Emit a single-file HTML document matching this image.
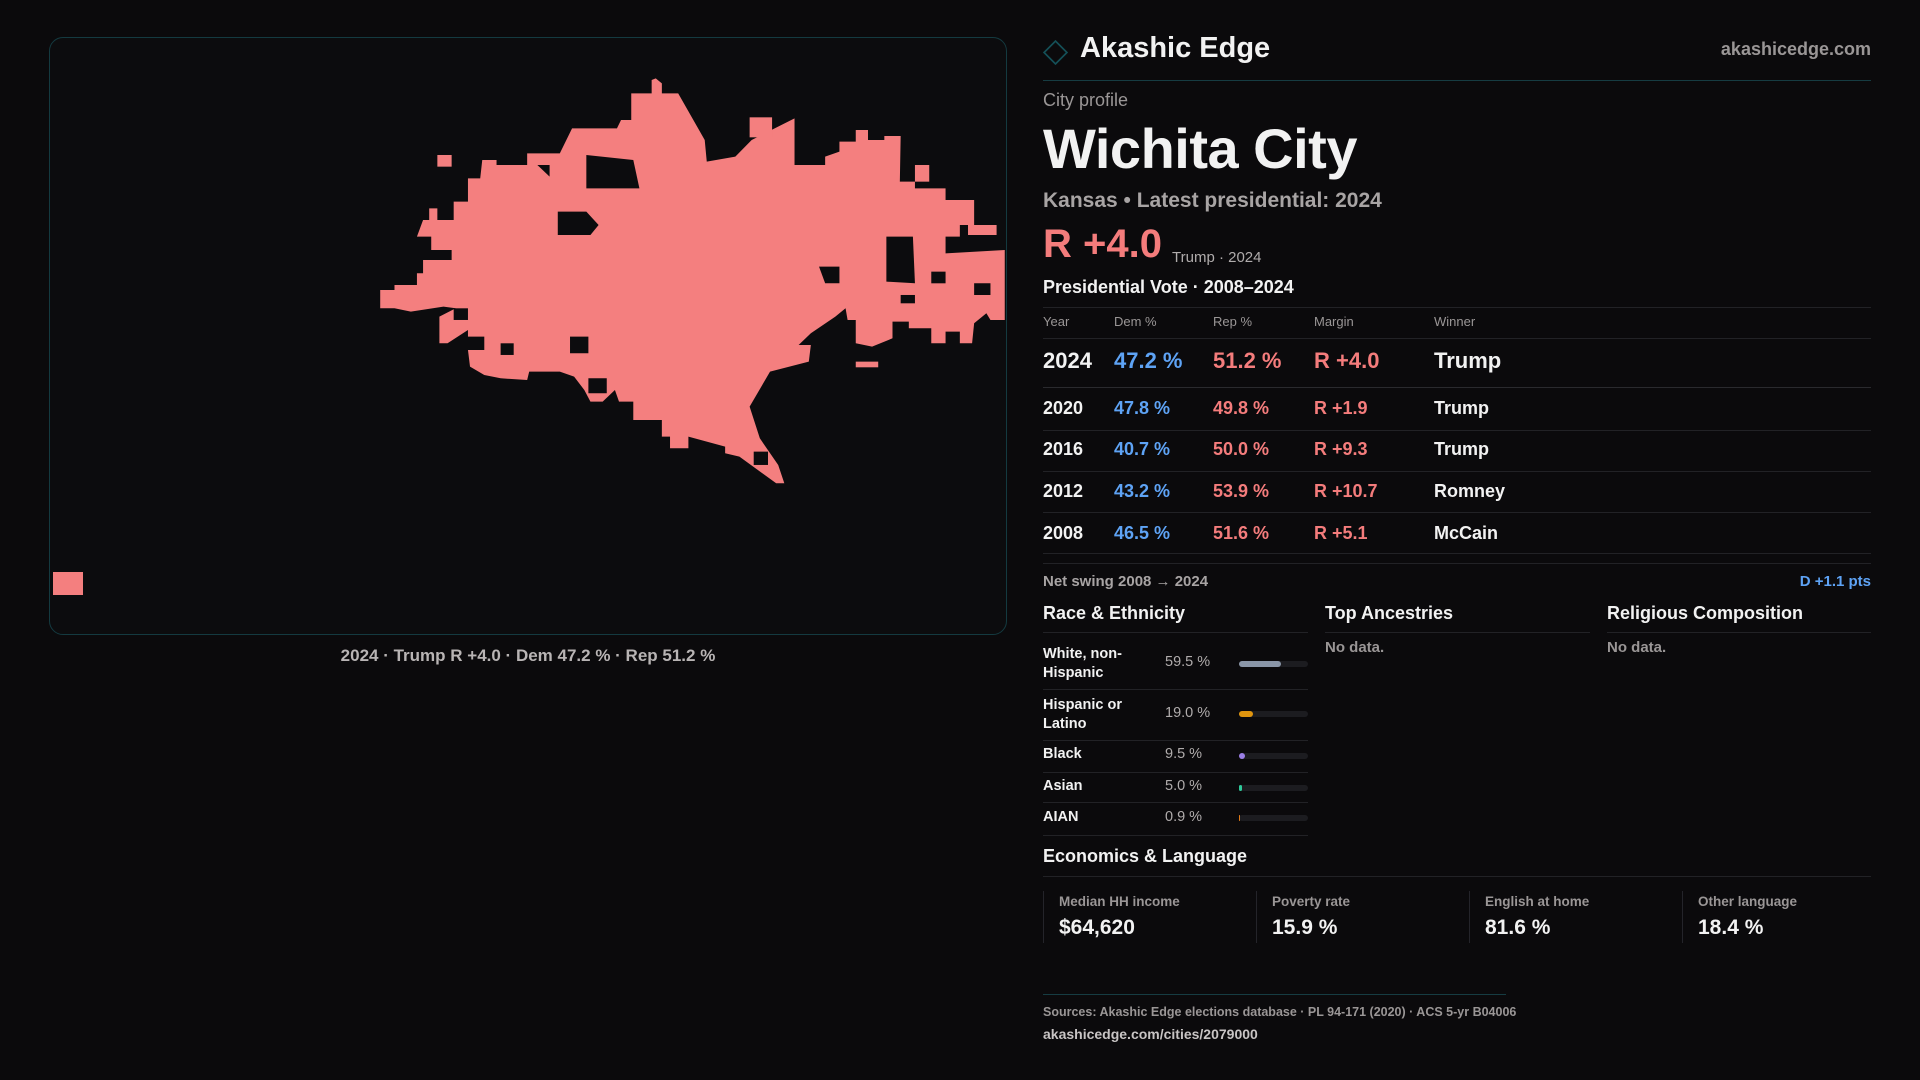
<!DOCTYPE html>
<html><head><meta charset="utf-8"><style>
*{margin:0;padding:0;box-sizing:border-box}
body{width:1920px;height:1080px;background:#0b0a0c;font-family:"Liberation Sans",sans-serif;color:#f2f2f2;position:relative;overflow:hidden}
.a{position:absolute;white-space:nowrap}
.g{color:#9a9696}
.hl{position:absolute;height:1px;background:#222226}
.r{color:#f47c7c}.b{color:#5ea3f5}
.bar{position:absolute;left:1239px;width:69px;height:6px;border-radius:3px;background:#1c1c20}
.bar i{position:absolute;left:0;top:0;height:6px;border-radius:3px}
.card{position:absolute;top:891px;height:52px;border-left:1px solid #24242a}
</style></head><body>
<div class="a" style="left:49px;top:37px;width:958px;height:598px;border:1px solid #143a40;border-radius:14px;background:#0c0c0e"></div>
<svg class="a" style="left:0;top:0" width="1920" height="1080" viewBox="0 0 1920 1080">
<g transform="translate(370,60) scale(0.4082,0.3333)">
<polygon fill="#f47f7f" points="640,100 690,100 690,60 700,55 715,70 715,100 755,100 820,240 825,305 895,290 935,240 1040,175 1040,315 1115,315 1115,290 1150,275 1150,245 1190,245 1190,210 1220,210 1220,240 1260,240 1260,228 1300,228 1298,365 1335,365 1335,385 1410,385 1410,420 1480,420 1480,495 1535,495 1535,525 1465,525 1465,495 1445,495 1445,530 1410,530 1410,580 1555,570 1555,780 1520,780 1510,760 1480,790 1475,850 1445,850 1445,815 1410,815 1410,850 1375,850 1375,805 1320,805 1320,785 1280,785 1280,835 1230,860 1190,850 1190,780 1170,780 1165,745 1140,770 1080,820 1050,855 1080,855 1075,905 980,935 930,1040 955,1135 1000,1215 1015,1270 995,1270 905,1190 870,1180 870,1160 780,1130 780,1165 735,1165 735,1130 715,1130 715,1080 645,1080 645,1025 610,1025 600,990 570,1025 540,1025 525,990 500,950 465,935 390,935 385,960 320,955 280,945 245,920 240,870 280,870 280,830 240,830 240,810 190,850 170,850 170,770 210,745 180,740 100,755 60,745 25,745 25,690 60,690 60,675 115,675 115,640 130,640 130,600 200,600 200,570 150,570 150,530 115,530 130,480 145,480 145,445 165,445 165,480 205,480 205,425 240,425 240,355 270,355 275,300 310,300 310,315 385,315 385,280 465,280 495,205 605,205 615,180 640,180"/>
<rect fill="#f47f7f" x="165" y="285" width="35" height="35"/>
<rect fill="#f47f7f" x="1335" y="315" width="35" height="50"/>
<rect fill="#f47f7f" x="1190" y="905" width="55" height="17"/>
<rect fill="#f47f7f" x="930" y="172" width="55" height="60"/>
<g fill="#0c0c0e">
<polygon points="460,455 530,455 560,495 540,525 460,525"/>
<polygon points="1100,620 1150,620 1150,670 1115,670"/>
<polygon points="530,285 645,300 660,385 530,385"/>
<polygon points="1265,530 1330,530 1335,670 1265,665"/>
<polygon points="205,745 240,745 240,780 205,780"/>
<polygon points="490,830 535,830 535,880 490,880"/>
<polygon points="320,850 352,850 352,885 320,885"/>
<polygon points="1300,705 1335,705 1335,730 1300,730"/>
<polygon points="535,955 580,955 580,1000 535,1000"/>
<polygon points="1375,635 1410,635 1410,670 1375,670"/>
<polygon points="1480,670 1520,670 1520,705 1480,705"/>
<polygon points="940,1175 975,1175 975,1215 940,1215"/>
<polygon points="410,315 440,315 440,350"/>
<polygon points="830,245 895,245 890,290 825,290"/>
</g></g>
<rect fill="#f47f7f" x="53" y="572" width="30" height="23"/>
</svg>
<div class="a" style="left:528px;top:646px;transform:translateX(-50%);font-size:17px;color:#b8b4b4;font-weight:bold">2024 · Trump R +4.0 · Dem 47.2 % · Rep 51.2 %</div>

<div class="a" style="left:1045px;top:42px;width:21px;height:21px;border:2px solid #145058;transform:rotate(45deg) scale(0.85)"></div>
<div class="a" style="left:1080px;top:32px;font-size:29px;font-weight:bold">Akashic Edge</div>
<div class="a g" style="right:49px;top:39px;font-size:18px;font-weight:bold">akashicedge.com</div>
<div class="hl" style="left:1043px;top:80px;width:828px;background:#163c42"></div>
<div class="a g" style="left:1043px;top:90px;font-size:18px">City profile</div>
<div class="a" style="left:1043px;top:116px;font-size:56px;font-weight:bold;letter-spacing:-0.5px">Wichita City</div>
<div class="a g" style="left:1043px;top:189px;font-size:21px;font-weight:bold;color:#a8a4a4">Kansas • Latest presidential: 2024</div>
<div class="a r" style="left:1043px;top:222px;font-size:40px;font-weight:bold">R +4.0</div>
<div class="a" style="left:1172px;top:249px;font-size:15px;color:#b0acac">Trump · 2024</div>
<div class="a" style="left:1043px;top:277px;font-size:18px;font-weight:bold">Presidential Vote · 2008–2024</div>
<div class="hl" style="left:1043px;top:307px;width:828px"></div>
<div class="a g" style="left:1043px;top:314px;font-size:13px">Year</div>
<div class="a g" style="left:1114px;top:314px;font-size:13px">Dem %</div>
<div class="a g" style="left:1213px;top:314px;font-size:13px">Rep %</div>
<div class="a g" style="left:1314px;top:314px;font-size:13px">Margin</div>
<div class="a g" style="left:1434px;top:314px;font-size:13px">Winner</div>
<div class="hl" style="left:1043px;top:338px;width:828px"></div>
<div style="font-size:22px;font-weight:bold">
<div class="a" style="left:1043px;top:348px">2024</div><div class="a b" style="left:1114px;top:348px">47.2 %</div><div class="a r" style="left:1213px;top:348px">51.2 %</div><div class="a r" style="left:1314px;top:348px">R +4.0</div><div class="a" style="left:1434px;top:348px">Trump</div>
</div>
<div class="hl" style="left:1043px;top:387px;width:828px;background:#2a2a2e"></div>
<div style="font-size:18px;font-weight:bold">
<div class="a" style="left:1043px;top:398px">2020</div><div class="a b" style="left:1114px;top:398px">47.8 %</div><div class="a r" style="left:1213px;top:398px">49.8 %</div><div class="a r" style="left:1314px;top:398px">R +1.9</div><div class="a" style="left:1434px;top:398px">Trump</div>
<div class="a" style="left:1043px;top:439px">2016</div><div class="a b" style="left:1114px;top:439px">40.7 %</div><div class="a r" style="left:1213px;top:439px">50.0 %</div><div class="a r" style="left:1314px;top:439px">R +9.3</div><div class="a" style="left:1434px;top:439px">Trump</div>
<div class="a" style="left:1043px;top:481px">2012</div><div class="a b" style="left:1114px;top:481px">43.2 %</div><div class="a r" style="left:1213px;top:481px">53.9 %</div><div class="a r" style="left:1314px;top:481px">R +10.7</div><div class="a" style="left:1434px;top:481px">Romney</div>
<div class="a" style="left:1043px;top:523px">2008</div><div class="a b" style="left:1114px;top:523px">46.5 %</div><div class="a r" style="left:1213px;top:523px">51.6 %</div><div class="a r" style="left:1314px;top:523px">R +5.1</div><div class="a" style="left:1434px;top:523px">McCain</div>
</div>
<div class="hl" style="left:1043px;top:430px;width:828px"></div>
<div class="hl" style="left:1043px;top:471px;width:828px"></div>
<div class="hl" style="left:1043px;top:512px;width:828px"></div>
<div class="hl" style="left:1043px;top:553px;width:828px"></div>
<div class="hl" style="left:1043px;top:563px;width:828px"></div>
<div class="a" style="left:1043px;top:573px;font-size:15px;color:#a8a4a4;font-weight:bold">Net swing 2008 → 2024</div>
<div class="a b" style="right:49px;top:573px;font-size:15px;font-weight:bold">D +1.1 pts</div>

<div class="a" style="left:1043px;top:603px;font-size:18px;font-weight:bold">Race &amp; Ethnicity</div>
<div class="a" style="left:1325px;top:603px;font-size:18px;font-weight:bold">Top Ancestries</div>
<div class="a" style="left:1607px;top:603px;font-size:18px;font-weight:bold">Religious Composition</div>
<div class="hl" style="left:1043px;top:632px;width:265px"></div>
<div class="hl" style="left:1325px;top:632px;width:265px"></div>
<div class="hl" style="left:1607px;top:632px;width:264px"></div>
<div class="a g" style="left:1325px;top:639px;font-size:15px;font-weight:bold">No data.</div>
<div class="a g" style="left:1607px;top:639px;font-size:15px;font-weight:bold">No data.</div>
<div style="font-size:14.5px;font-weight:bold">
<div class="a" style="left:1043px;top:645px;line-height:19px">White, non-<br>Hispanic</div>
<div class="a" style="left:1043px;top:696px;line-height:19px">Hispanic or<br>Latino</div>
<div class="a" style="left:1043px;top:746px">Black</div>
<div class="a" style="left:1043px;top:778px">Asian</div>
<div class="a" style="left:1043px;top:809px">AIAN</div>
</div>
<div style="font-size:14.5px;color:#b0acac">
<div class="a" style="left:1165px;top:654px">59.5 %</div>
<div class="a" style="left:1165px;top:705px">19.0 %</div>
<div class="a" style="left:1165px;top:746px">9.5 %</div>
<div class="a" style="left:1165px;top:778px">5.0 %</div>
<div class="a" style="left:1165px;top:809px">0.9 %</div>
</div>
<div class="bar" style="top:661px"><i style="width:42px;background:#8a96a8"></i></div>
<div class="bar" style="top:711px"><i style="width:14px;background:#e0950e"></i></div>
<div class="bar" style="top:753px"><i style="width:6px;background:#9b7fe6"></i></div>
<div class="bar" style="top:785px"><i style="width:3px;background:#2fc99a"></i></div>
<div class="bar" style="top:815px"><i style="width:1px;background:#e07a18"></i></div>
<div class="hl" style="left:1043px;top:689px;width:265px"></div>
<div class="hl" style="left:1043px;top:740px;width:265px"></div>
<div class="hl" style="left:1043px;top:772px;width:265px"></div>
<div class="hl" style="left:1043px;top:802px;width:265px"></div>
<div class="hl" style="left:1043px;top:835px;width:265px"></div>

<div class="a" style="left:1043px;top:846px;font-size:18px;font-weight:bold">Economics &amp; Language</div>
<div class="hl" style="left:1043px;top:876px;width:828px"></div>
<div class="card" style="left:1043px"></div><div class="card" style="left:1256px"></div><div class="card" style="left:1469px"></div><div class="card" style="left:1682px"></div>
<div class="a g" style="left:1059px;top:894px;font-size:13.5px;font-weight:bold">Median HH income</div>
<div class="a g" style="left:1272px;top:894px;font-size:13.5px;font-weight:bold">Poverty rate</div>
<div class="a g" style="left:1485px;top:894px;font-size:13.5px;font-weight:bold">English at home</div>
<div class="a g" style="left:1698px;top:894px;font-size:13.5px;font-weight:bold">Other language</div>
<div style="font-size:21px;font-weight:bold">
<div class="a" style="left:1059px;top:916px">$64,620</div>
<div class="a" style="left:1272px;top:916px">15.9 %</div>
<div class="a" style="left:1485px;top:916px">81.6 %</div>
<div class="a" style="left:1698px;top:916px">18.4 %</div>
</div>
<div class="hl" style="left:1043px;top:994px;width:463px;background:#163c42"></div>
<div class="a g" style="left:1043px;top:1005px;font-size:12.5px;font-weight:bold">Sources: Akashic Edge elections database · PL 94-171 (2020) · ACS 5-yr B04006</div>
<div class="a" style="left:1043px;top:1026px;font-size:14px;font-weight:bold;color:#c8c4c4">akashicedge.com/cities/2079000</div>
</body></html>
